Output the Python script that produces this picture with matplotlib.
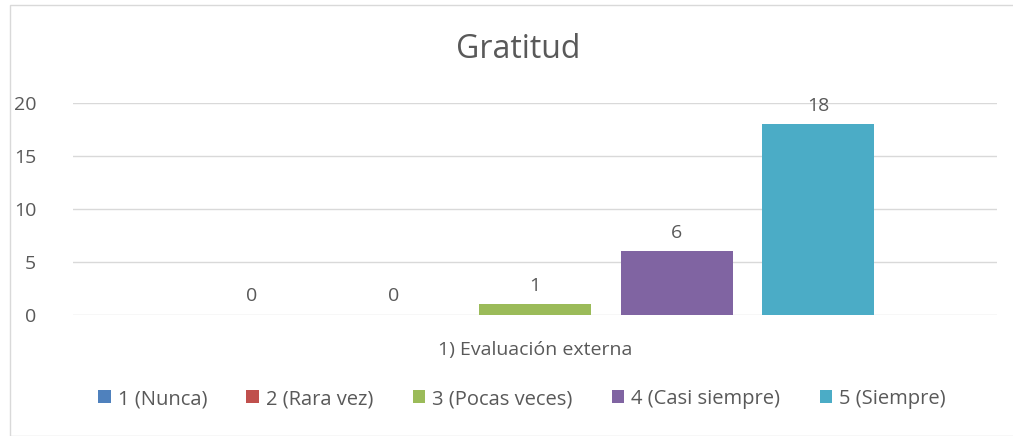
import matplotlib
matplotlib.use("Agg")
import matplotlib.pyplot as plt
from matplotlib.patches import Rectangle

title = "Gratitud"
category = "1) Evaluación externa"
series = ["1 (Nunca)", "2 (Rara vez)", "3 (Pocas veces)", "4 (Casi siempre)", "5 (Siempre)"]
values = [0, 0, 1, 6, 18]
colors = ["#4F81BD", "#C0504D", "#9BBB59", "#8064A2", "#4BACC6"]
yticks = [0, 5, 10, 15, 20]

txt = "#595959"
plt.rcParams['font.family'] = ['Open Sans', 'DejaVu Sans']

fig = plt.figure(figsize=(10.13, 4.36), dpi=100)
fig.patches.append(Rectangle((10/1013, 0), 1.2, (436-5)/436, transform=fig.transFigure,
                             fill=False, edgecolor="#D9D9D9", lw=1))
ax = fig.add_axes([73/1013, (436-315)/436, (997-73)/1013, (315-103)/436])

for i, (s, v, c) in enumerate(zip(series, values, colors)):
    ax.bar(i, v, width=0.79, color=c, label=s, zorder=3)
    ax.text(i, v + 0.9, str(v), ha="center", va="bottom", fontsize=14, color=txt)

ax.set_xlim(2 - 3.26, 2 + 3.26)
ax.set_ylim(0, 20)
ax.set_yticks(yticks)
ax.set_yticklabels([str(t) for t in yticks], fontsize=14, color=txt)
ax.tick_params(axis="y", length=0, pad=26.5)
ax.set_xticks([2])
ax.set_xticklabels([category], fontsize=14, color=txt)
ax.tick_params(axis="x", length=0, pad=19)
ax.grid(axis="y", color="#D9D9D9", lw=1, zorder=0)
for sp in ax.spines.values():
    sp.set_visible(False)

fig.text(518/1013, 1 - 50/436, title, ha="center", va="center", fontsize=23, color=txt)

leg = fig.legend(loc="center", bbox_to_anchor=(522/1013, 1 - 399/436), ncol=5, frameon=False,
                 fontsize=14.5, handlelength=0.62, handleheight=0.62, handletextpad=0.35,
                 columnspacing=1.95, labelcolor=txt)

fig.savefig("out.png", dpi=100)
